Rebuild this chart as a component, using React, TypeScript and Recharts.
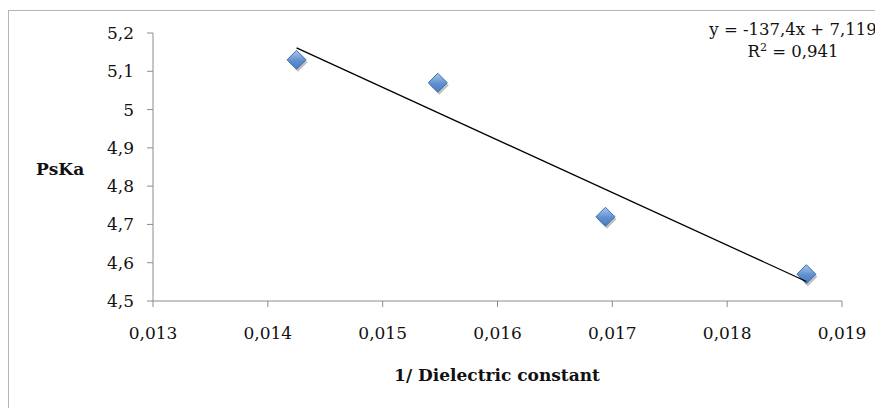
import { ScatterChart, Scatter, XAxis, YAxis } from "recharts";

const dielectricInv = [0.01425, 0.01548, 0.01694, 0.01869];
const psKa = [5.13, 5.07, 4.72, 4.57];
const trendX = [0.01425, 0.01869];
const trendY = [5.161, 4.551];
const xTicks = [0.013, 0.014, 0.015, 0.016, 0.017, 0.018, 0.019];
const yTicks = [4.5, 4.6, 4.7, 4.8, 4.9, 5, 5.1, 5.2];

const points = dielectricInv.map((x, i) => ({ x, y: psKa[i] }));
const trend = trendX.map((x, i) => ({ x, y: trendY[i] }));

const FONT = "'DejaVu Serif', serif";
const AXIS = "#8c8c8c";

const fmtX = (v: number) => v.toFixed(3).replace(".", ",");
const fmtY = (v: number) => String(Number(v.toFixed(1))).replace(".", ",");

const Diamond = (props: any) => {
  const { cx, cy } = props;
  if (cx == null || cy == null) return null;
  const r = 9.5;
  const d = `M${cx},${cy - r} L${cx + r},${cy} L${cx},${cy + r} L${cx - r},${cy} Z`;
  const s = `M${cx + 1.5},${cy - r + 2.5} L${cx + r + 1.5},${cy + 2.5} L${cx + 1.5},${cy + r + 2.5} L${cx - r + 1.5},${cy + 2.5} Z`;
  return (
    <g>
      <path d={s} fill="rgba(0,0,0,0.25)" />
      <path d={d} fill="url(#diamondFill)" stroke="#3f6fae" strokeWidth={1} />
    </g>
  );
};

export default function App() {
  return (
    <div style={{ position: "relative", width: 875, height: 400, overflow: "hidden", fontFamily: FONT }}>
      <div
        style={{
          position: "absolute",
          left: 0,
          top: 2,
          width: 1000,
          height: 1000,
          borderLeft: "1px solid #b4b4b4",
          borderTop: "1px solid #b4b4b4",
        }}
      />
      <ScatterChart width={875} height={400} margin={{ top: 25, right: 41, bottom: 77, left: 0 }}>
        <defs>
          <linearGradient id="diamondFill" x1="0" y1="0" x2="0" y2="1">
            <stop offset="0%" stopColor="#a9c8ec" />
            <stop offset="55%" stopColor="#5f8fd0" />
            <stop offset="100%" stopColor="#4a7cc0" />
          </linearGradient>
        </defs>
        <XAxis
          type="number"
          dataKey="x"
          domain={[0.013, 0.019]}
          ticks={xTicks}
          tickFormatter={fmtX}
          height={30}
          stroke={AXIS}
          tickSize={6}
          tickMargin={20}
          tick={{ fill: "#111", fontSize: 17, fontFamily: FONT }}
          allowDataOverflow
        />
        <YAxis
          type="number"
          dataKey="y"
          domain={[4.5, 5.2]}
          ticks={yTicks}
          tickFormatter={fmtY}
          width={145}
          stroke={AXIS}
          tickSize={6}
          tickMargin={13}
          tick={{ fill: "#111", fontSize: 17, fontFamily: FONT }}
          allowDataOverflow
        />
        <Scatter data={points} shape={Diamond} isAnimationActive={false} />
        <Scatter
          data={trend}
          line={{ stroke: "#000", strokeWidth: 1.3 }}
          shape={() => null}
          isAnimationActive={false}
        />
      </ScatterChart>
      <div style={{ position: "absolute", left: 28, top: 151, fontSize: 17, fontWeight: "bold", color: "#111" }}>
        PsKa
      </div>
      <div
        style={{
          position: "absolute",
          left: 289,
          width: 400,
          top: 357,
          textAlign: "center",
          fontSize: 17,
          fontWeight: "bold",
          color: "#111",
        }}
      >
        1/ Dielectric constant
      </div>
      <div
        style={{
          position: "absolute",
          left: 685,
          width: 200,
          top: 11,
          textAlign: "center",
          fontSize: 16.5,
          lineHeight: "22px",
          color: "#111",
          whiteSpace: "nowrap",
        }}
      >
        <div>y = -137,4x + 7,119</div>
        <div>
          R<sup style={{ fontSize: 11, verticalAlign: "6px", lineHeight: 0 }}>2</sup> = 0,941
        </div>
      </div>
    </div>
  );
}
